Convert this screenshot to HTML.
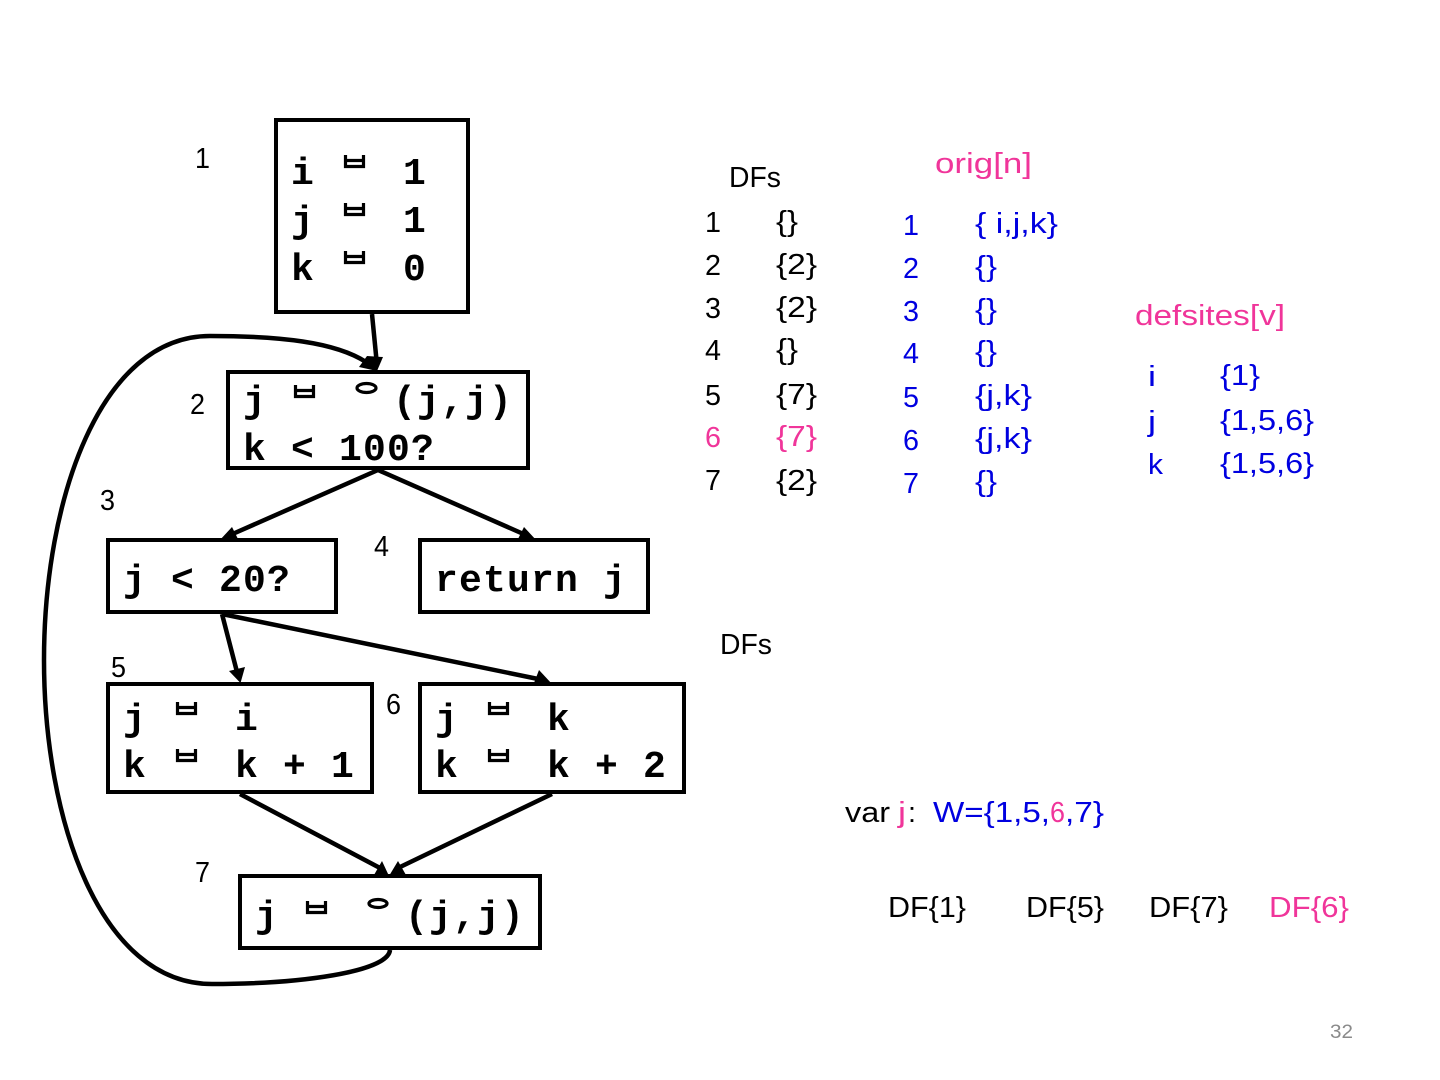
<!DOCTYPE html>
<html><head><meta charset="utf-8"><style>
html,body{margin:0;padding:0;background:#fff}
svg{display:block}
.m{font:bold 38px "Liberation Mono",monospace;letter-spacing:1.2px;fill:#000}
.t{font:29px "Liberation Sans",sans-serif;fill:#000}
.p{fill:#f0359a}.b{fill:#0000e0}
.box{fill:#fff;stroke:#000;stroke-width:4}
.e{fill:none;stroke:#000;stroke-width:4.500}
.a{fill:none;stroke:#000;stroke-width:3.2}
.o{fill:none;stroke:#000;stroke-width:3.2}
</style></head><body>
<svg width="1440" height="1080" viewBox="0 0 1440 1080" xmlns="http://www.w3.org/2000/svg">
<defs>
<path id="as" d="M1.5 0V11.5H19.5V0M1.5 5.5H19.5" class="a"/>
</defs>
<path class="e" d="M390 950C388 972 300 984 212 984C100 984 44 820 44 660C44 500 100 336 210 336C280 336 335 342 366 362"/>
<path class="e" d="M372 314L376.500 360"/>
<path class="e" d="M378 470L228 536M378 470L528 536"/>
<path class="e" d="M222 614L237 672M222 614L543 680"/>
<path class="e" d="M240 794L380 868M552 794L398 868"/>
<path d="M383 357L377 371L359 367L367 356Z"/>
<path d="M219 541L232 527L238 539Z"/>
<path d="M537 541L524 527L518 539Z"/>
<rect class="box" x="276" y="120" width="192" height="192"/>
<rect class="box" x="228" y="372" width="300" height="96"/>
<rect class="box" x="108" y="540" width="228" height="72"/>
<rect class="box" x="420" y="540" width="228" height="72"/>
<rect class="box" x="108" y="684" width="264" height="108"/>
<rect class="box" x="420" y="684" width="264" height="108"/>
<rect class="box" x="240" y="876" width="300" height="72"/>
<path d="M240.500 683L229 671L245 667Z"/>
<path d="M552 684L539 670L534 683Z"/>
<path d="M389 876L382 861L374 875Z"/>
<path d="M389 876L398 861L406 875Z"/>

<text class="m" x="291" y="184">i</text><text class="m" x="403" y="184">1</text>
<text class="m" x="291" y="232">j</text><text class="m" x="403" y="232">1</text>
<text class="m" x="291" y="280">k</text><text class="m" x="403" y="280">0</text>
<use href="#as" x="344" y="155"/><use href="#as" x="344" y="203"/><use href="#as" x="344" y="251"/>

<text class="m" x="243" y="412">j</text><text class="m" x="393" y="412">(j,j)</text>
<text class="m" x="243" y="460">k &lt; 100?</text>
<use href="#as" x="294" y="385"/>
<ellipse class="o" cx="366.500" cy="388" rx="9.500" ry="4.500"/>

<text class="m" x="123" y="591">j &lt; 20?</text>
<text class="m" x="435" y="591">return j</text>

<text class="m" x="123" y="730">j</text><text class="m" x="235" y="730">i</text>
<text class="m" x="123" y="777">k</text><text class="m" x="235" y="777">k + 1</text>
<use href="#as" x="176" y="702"/><use href="#as" x="176" y="749"/>

<text class="m" x="435" y="730">j</text><text class="m" x="547" y="730">k</text>
<text class="m" x="435" y="777">k</text><text class="m" x="547" y="777">k + 2</text>
<use href="#as" x="488" y="702"/><use href="#as" x="488" y="749"/>

<text class="m" x="255" y="927">j</text><text class="m" x="405" y="927">(j,j)</text>
<use href="#as" x="306" y="901"/>
<ellipse class="o" cx="378" cy="903.500" rx="9" ry="4"/>

<text class="t" x="195" y="168" textLength="15" lengthAdjust="spacingAndGlyphs">1</text>
<text class="t" x="190" y="414" textLength="15" lengthAdjust="spacingAndGlyphs">2</text>
<text class="t" x="100" y="510" textLength="15" lengthAdjust="spacingAndGlyphs">3</text>
<text class="t" x="374" y="556" textLength="15" lengthAdjust="spacingAndGlyphs">4</text>
<text class="t" x="111" y="677" textLength="15" lengthAdjust="spacingAndGlyphs">5</text>
<text class="t" x="386" y="714" textLength="15" lengthAdjust="spacingAndGlyphs">6</text>
<text class="t" x="195" y="882" textLength="15" lengthAdjust="spacingAndGlyphs">7</text>

<text class="t" x="729" y="187" textLength="52" lengthAdjust="spacingAndGlyphs">DFs</text>
<text class="t" x="705" y="232" textLength="16" lengthAdjust="spacingAndGlyphs">1</text>
<text class="t" x="705" y="275" textLength="16" lengthAdjust="spacingAndGlyphs">2</text>
<text class="t" x="705" y="318" textLength="16" lengthAdjust="spacingAndGlyphs">3</text>
<text class="t" x="705" y="360" textLength="16" lengthAdjust="spacingAndGlyphs">4</text>
<text class="t" x="705" y="405" textLength="16" lengthAdjust="spacingAndGlyphs">5</text>
<text class="t p" x="705" y="447" textLength="16" lengthAdjust="spacingAndGlyphs">6</text>
<text class="t" x="705" y="490" textLength="16" lengthAdjust="spacingAndGlyphs">7</text>
<text class="t" x="776" y="231" textLength="22" lengthAdjust="spacingAndGlyphs">{}</text>
<text class="t" x="776" y="274" textLength="41" lengthAdjust="spacingAndGlyphs">{2}</text>
<text class="t" x="776" y="317" textLength="41" lengthAdjust="spacingAndGlyphs">{2}</text>
<text class="t" x="776" y="359" textLength="22" lengthAdjust="spacingAndGlyphs">{}</text>
<text class="t" x="776" y="404" textLength="41" lengthAdjust="spacingAndGlyphs">{7}</text>
<text class="t p" x="776" y="446" textLength="41" lengthAdjust="spacingAndGlyphs">{7}</text>
<text class="t" x="776" y="490" textLength="41" lengthAdjust="spacingAndGlyphs">{2}</text>

<text class="t p" x="935" y="173" textLength="97" lengthAdjust="spacingAndGlyphs">orig[n]</text>
<text class="t b" x="903" y="235" textLength="16" lengthAdjust="spacingAndGlyphs">1</text>
<text class="t b" x="903" y="278" textLength="16" lengthAdjust="spacingAndGlyphs">2</text>
<text class="t b" x="903" y="321" textLength="16" lengthAdjust="spacingAndGlyphs">3</text>
<text class="t b" x="903" y="363" textLength="16" lengthAdjust="spacingAndGlyphs">4</text>
<text class="t b" x="903" y="407" textLength="16" lengthAdjust="spacingAndGlyphs">5</text>
<text class="t b" x="903" y="450" textLength="16" lengthAdjust="spacingAndGlyphs">6</text>
<text class="t b" x="903" y="493" textLength="16" lengthAdjust="spacingAndGlyphs">7</text>
<text class="t b" x="975" y="233" textLength="83" lengthAdjust="spacingAndGlyphs">{ i,j,k}</text>
<text class="t b" x="975" y="276" textLength="22" lengthAdjust="spacingAndGlyphs">{}</text>
<text class="t b" x="975" y="319" textLength="22" lengthAdjust="spacingAndGlyphs">{}</text>
<text class="t b" x="975" y="361" textLength="22" lengthAdjust="spacingAndGlyphs">{}</text>
<text class="t b" x="975" y="405" textLength="57" lengthAdjust="spacingAndGlyphs">{j,k}</text>
<text class="t b" x="975" y="448" textLength="57" lengthAdjust="spacingAndGlyphs">{j,k}</text>
<text class="t b" x="975" y="491" textLength="22" lengthAdjust="spacingAndGlyphs">{}</text>

<text class="t p" x="1135" y="325" textLength="150" lengthAdjust="spacingAndGlyphs">defsites[v]</text>
<text class="t b" x="1148" y="386" textLength="8" lengthAdjust="spacingAndGlyphs">i</text>
<text class="t b" x="1148" y="431" textLength="8" lengthAdjust="spacingAndGlyphs">j</text>
<text class="t b" x="1148" y="474" textLength="15" lengthAdjust="spacingAndGlyphs">k</text>
<text class="t b" x="1220" y="385" textLength="40" lengthAdjust="spacingAndGlyphs">{1}</text>
<text class="t b" x="1220" y="430" textLength="94" lengthAdjust="spacingAndGlyphs">{1,5,6}</text>
<text class="t b" x="1220" y="473" textLength="94" lengthAdjust="spacingAndGlyphs">{1,5,6}</text>

<text class="t" x="720" y="654" textLength="52" lengthAdjust="spacingAndGlyphs">DFs</text>

<text class="t" x="845" y="822" textLength="45" lengthAdjust="spacingAndGlyphs">var</text>
<text class="t p" x="898" y="822" textLength="8" lengthAdjust="spacingAndGlyphs">j</text>
<text class="t" x="908" y="822" textLength="8" lengthAdjust="spacingAndGlyphs">:</text>
<text class="t b" x="933" y="822" textLength="117" lengthAdjust="spacingAndGlyphs">W={1,5,</text>
<text class="t p" x="1050" y="822" textLength="15" lengthAdjust="spacingAndGlyphs">6</text>
<text class="t b" x="1065" y="822" textLength="39" lengthAdjust="spacingAndGlyphs">,7}</text>

<text class="t" x="888" y="917" textLength="78" lengthAdjust="spacingAndGlyphs">DF{1}</text>
<text class="t" x="1026" y="917" textLength="78" lengthAdjust="spacingAndGlyphs">DF{5}</text>
<text class="t" x="1149" y="917" textLength="79" lengthAdjust="spacingAndGlyphs">DF{7}</text>
<text class="t p" x="1269" y="917" textLength="80" lengthAdjust="spacingAndGlyphs">DF{6}</text>

<text x="1330" y="1038" font-family="Liberation Sans, sans-serif" font-size="19" fill="#8a8a8a" textLength="23" lengthAdjust="spacingAndGlyphs">32</text>
</svg>
</body></html>
